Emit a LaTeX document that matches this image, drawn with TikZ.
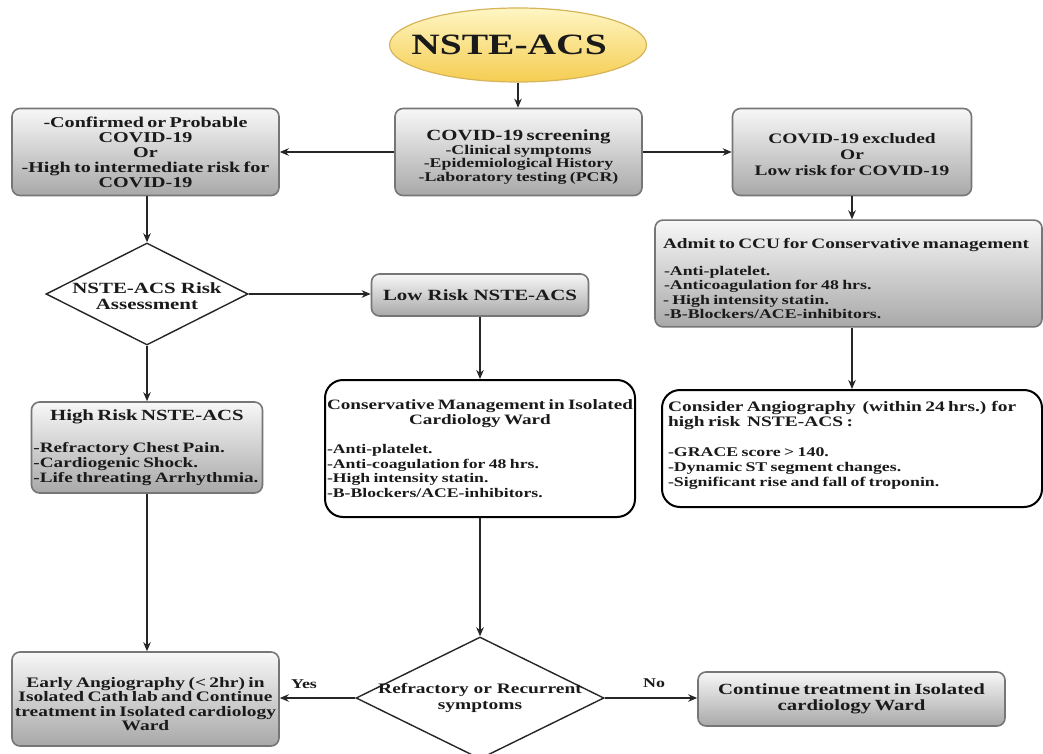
\documentclass[tikz,border=0pt]{standalone}
\usepackage{fontspec}
\setmainfont{Liberation Serif}[FakeStretch=1.34]
\usetikzlibrary{shapes.geometric,arrows.meta}
\definecolor{txt}{HTML}{1A1A1A}
\definecolor{boxedge}{HTML}{767676}
\definecolor{elltop}{HTML}{FFF6C4}
\definecolor{ellbot}{HTML}{F5CD50}
\definecolor{elledge}{HTML}{D6B45A}
\newcommand{\myfs}[2]{\fontsize{#1}{#2}\selectfont}
\newcommand{\topstrut}[1]{\rule{0pt}{#1}}
\begin{document}
\begin{tikzpicture}[x=1pt,y=-1pt,
  every node/.style={text=txt},
  graybox/.style={draw=boxedge, line width=1.6pt, rounded corners=8pt, top color=gray!6, bottom color=gray!68, inner sep=3pt, font=\bfseries},
  whitebox/.style={draw=black, line width=2pt, rounded corners=18pt, fill=white, inner sep=3pt, font=\bfseries},
  decision/.style={diamond, draw=black!85, line width=1.4pt, fill=white, inner sep=0pt},
  dtext/.style={align=center, font=\bfseries\myfs{#1}{16}},
  arr/.style={draw=black!85, line width=1.5pt, -{Stealth[length=9pt,width=7.5pt]}},
  lbl/.style={font=\bfseries\myfs{13.4}{14}}
]
\useasboundingbox (0,0) rectangle (1043,754);
\fill[white] (0,0) rectangle (1043,754);

% start
\node[ellipse, draw=elledge, line width=1.2pt, top color=elltop, bottom color=ellbot,
      minimum width=257pt, minimum height=74pt, inner sep=0pt] (start) at (518,45) {};
\node[font=\bfseries\myfs{29.5}{30}] (starttext) at (509,45) {NSTE-ACS};

% top row
\node[graybox, minimum width=247pt, minimum height=87pt, text width=241pt, align=center] (screen) at (518.5,152)
  {{\myfs{15.5}{16}\topstrut{21pt}COVID-19 screening\par}\myfs{13.3}{13.6}-Clinical symptoms\\-Epidemiological History\\-Laboratory testing (PCR)\par};
\node[graybox, minimum width=267pt, minimum height=87pt, text width=263pt, inner sep=2pt, align=center] (conf) at (145.5,152)
  {\myfs{15}{15}-Confirmed or Probable\\COVID-19\\Or\\-High to intermediate risk for\\COVID-19\par};
\node[graybox, minimum width=239pt, minimum height=87pt, text width=233pt, align=center] (excl) at (852,152)
  {\myfs{14.5}{16}\topstrut{16pt}COVID-19 excluded\\Or\\Low risk for COVID-19\par};

% risk assessment
\node[decision, minimum width=202pt, minimum height=102pt] (d1) at (147,294) {};
\node[dtext=15.6] (d1t) at ([yshift=-2pt]d1.center) {NSTE-ACS Risk\\Assessment};

\node[graybox, minimum width=217pt, minimum height=42pt, font=\bfseries\myfs{15.6}{16}] (low) at (480,295) {Low Risk NSTE-ACS};

\node[graybox, minimum width=231pt, minimum height=91pt, text width=227pt, inner sep=2pt, align=left] (high) at (147,447.5)
  {{\centering\myfs{15.5}{16}High Risk NSTE-ACS\par}\vspace{17pt}\myfs{14.3}{15}-Refractory Chest Pain.\\-Cardiogenic Shock.\\-Life threating Arrhythmia.\par};

\node[whitebox, minimum width=310pt, minimum height=137pt, text width=306pt, inner sep=2pt, align=left] (cons) at (480,448.5)
  {{\centering\myfs{14.3}{15}Conservative Management in Isolated\\Cardiology Ward\par}\vspace{15pt}\myfs{13.2}{14.6}-Anti-platelet.\\-Anti-coagulation for 48 hrs.\\-High intensity statin.\\-B-Blockers/ACE-inhibitors.\par};

% right column
\node[graybox, minimum width=387pt, minimum height=103pt, text width=371pt, inner sep=8pt, align=left] (admit) at (848.5,273.5)
  {{\myfs{14.4}{15}\topstrut{20pt}Admit to CCU for Conservative management\par}\vspace{13pt}\myfs{13.3}{14.4}\hspace*{1pt}-Anti-platelet.\\\hspace*{1pt}-Anticoagulation for 48 hrs.\\- High intensity statin.\\\hspace*{1pt}-B-Blockers/ACE-inhibitors.\par};

\node[whitebox, minimum width=380pt, minimum height=117pt, text width=368pt, inner sep=6pt, align=left] (consid) at (852,448.5)
  {{\myfs{14.5}{15}Consider Angiography~ (within 24 hrs.) for\\high risk~ NSTE-ACS :\par}\vspace{15pt}\myfs{13.3}{15}-GRACE score > 140.\\-Dynamic ST segment changes.\\-Significant rise and fall of troponin.\par\vspace{6pt}};

% bottom row
\node[decision, minimum width=248pt, minimum height=122pt] (d2) at (480,698) {};
\node[dtext=14.5] (d2t) at (d2.center) {Refractory or Recurrent\\symptoms};

\node[graybox, minimum width=267pt, minimum height=94pt, text width=263pt, inner sep=2pt, align=center] (early) at (145.5,699)
  {\myfs{14.5}{14.5}\topstrut{20pt}Early Angiography (< 2hr) in\\Isolated Cath lab and Continue\\treatment in Isolated cardiology\\Ward\par};

\node[graybox, minimum width=307pt, minimum height=54pt, text width=300pt, align=center] (cont) at (851.5,699)
  {\myfs{15.5}{15.5}Continue treatment in Isolated\\cardiology Ward\par};

% connectors
\draw[arr] (start.south) -- (start.south |- screen.north);
\draw[arr] (screen.west) -- (conf.east);
\draw[arr] (screen.east) -- (excl.west);
\draw[arr] (conf.south -| d1.north) -- (d1.north);
\draw[arr] (d1.east) -- (d1.east -| low.west);
\draw[arr] (low.south) -- (low.south |- cons.north);
\draw[arr] (d1.south) -- (d1.south |- high.north);
\draw[arr] (high.south) -- (high.south |- early.north);
\draw[arr] (cons.south -| d2.north) -- (d2.north);
\draw[arr] (d2.west) -- (d2.west -| early.east);
\draw[arr] (d2.east) -- (d2.east -| cont.west);
\draw[arr] (excl.south) -- (excl.south |- admit.north);
\draw[arr] (consid.north |- admit.south) -- (consid.north);

\node[lbl] (yes) at (304,684) {Yes};
\node[lbl] (no) at (654,683) {No};
\end{tikzpicture}
\end{document}
